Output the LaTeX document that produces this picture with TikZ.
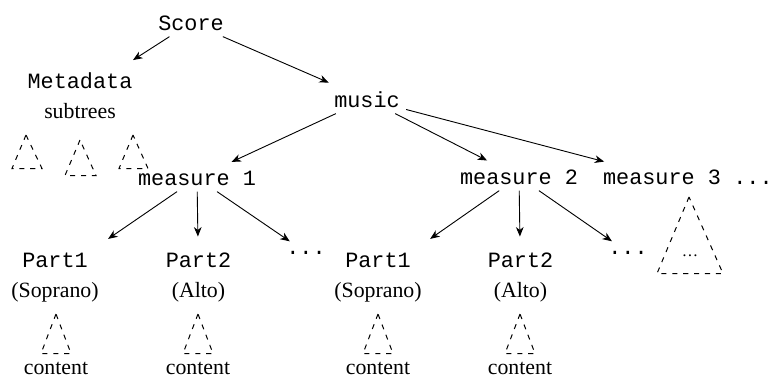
\documentclass[tikz,border=0pt]{standalone}
\usepackage{fontspec}
\setmainfont{Liberation Serif}
\setmonofont{Liberation Mono}
\usetikzlibrary{arrows.meta}

% tall first line for the stacked labels
\newcommand{\tallstrut}{\rule{0pt}{0.88em}}

\tikzset{
  lbl/.style={font=\fontsize{12}{15}\selectfont, inner sep=0.3333em, align=center},
  mono/.style={lbl, font=\fontsize{12}{15}\selectfont\ttfamily},
  arc/.style={draw, line width=0.5pt, shorten >=3pt,
    -{Stealth[length=5.2pt, width=4.2pt, inset=1.6pt]}},
  roof/.style={draw, line width=0.55pt, dash pattern=on 2.8pt off 3.2pt}
}

\begin{document}
\begin{tikzpicture}[x=0.55pt, y=-0.55pt]
  \useasboundingbox (0,0) rectangle (769,376);

  % top levels
  \node[mono, anchor=base] (score) at (191,30) {Score};
  \node[lbl, anchor=north] (meta) at (80,63) {{\ttfamily\tallstrut Metadata}\\[1.5pt] subtrees};
  \node[mono, anchor=base] (music) at (367,107) {music};

  % measures
  \node[mono, anchor=base] (m1) at (197,185) {measure 1};
  \node[mono, anchor=base] (m2) at (519,184) {measure 2};
  \node[mono, anchor=base] (m3) at (662,184) {measure 3};
  \node[mono, anchor=base, inner xsep=0pt] (mmore) at (753,184) {...};

  % parts
  \node[lbl, anchor=north] (p11) at (55,242) {{\ttfamily\tallstrut Part1}\\[1.5pt] (Soprano)};
  \node[lbl, anchor=north] (p12) at (198.5,242) {{\ttfamily\tallstrut Part2}\\[1.5pt] (Alto)};
  \node[mono, anchor=base] (d1) at (306,254) {...};
  \node[lbl, anchor=north] (p21) at (378,242) {{\ttfamily\tallstrut Part1}\\[1.5pt] (Soprano)};
  \node[lbl, anchor=north] (p22) at (520.5,242) {{\ttfamily\tallstrut Part2}\\[1.5pt] (Alto)};
  \node[mono, anchor=base] (d2) at (628,254) {...};

  % leaf labels
  \node[lbl, anchor=base] (c11) at (56,374) {content};
  \node[lbl, anchor=base] (c12) at (198,374) {content};
  \node[lbl, anchor=base] (c21) at (378,374) {content};
  \node[lbl, anchor=base] (c22) at (520,374) {content};

  % edges
  \draw[arc] (score) -- (meta);
  \draw[arc] (score) -- (music);
  \draw[arc] (music) -- (m1);
  \draw[arc] (music) -- (m2);
  \draw[arc] (music) -- (m3);
  \draw[arc] (m1) -- (p11);
  \draw[arc] (m1) -- (p12);
  \draw[arc] (m1) -- (d1);
  \draw[arc] (m2) -- (p21);
  \draw[arc] (m2) -- (p22);
  \draw[arc] (m2) -- (d2);

  % collapsed subtrees of the metadata
  \draw[roof] (26,135) -- (12,168.5) -- (42,168.5) -- cycle;
  \draw[roof] (80,140) -- (65,175.5) -- (96,175.5) -- cycle;
  \draw[roof] (133,135) -- (119,168.5) -- (148,168.5) -- cycle;

  % collapsed part contents
  \foreach \cx in {56,198,378,520}
    \draw[roof] (\cx,314) -- (\cx-15,353.5) -- (\cx+15,353.5) -- cycle;

  % collapsed third measure
  \draw[roof] (689,197) -- (657,273.5) -- (723,273.5) -- cycle;
  \node[font=\fontsize{9}{9}\selectfont, inner sep=0pt, anchor=base] (m3body) at (690,256) {…};
\end{tikzpicture}
\end{document}
